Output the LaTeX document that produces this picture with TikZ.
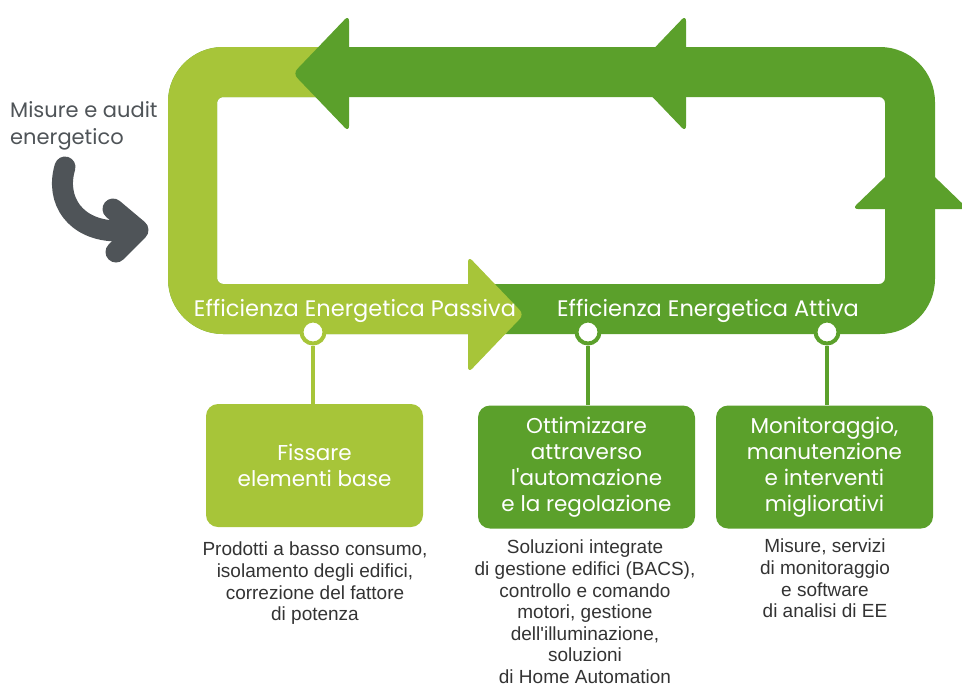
\documentclass[tikz,border=0pt]{standalone}
\usepackage{fontspec}
\setmainfont{Poppins}
\newfontfamily\descfont{Liberation Sans}
\definecolor{lightg}{HTML}{A7C539}
\definecolor{darkg}{HTML}{5BA02B}
\definecolor{arrowgray}{HTML}{4F5458}
\definecolor{desc}{HTML}{333333}
\begin{document}
\begin{tikzpicture}[x=1pt,y=-1pt,
  box/.style={rounded corners=12pt, minimum width=217pt, minimum height=123pt, inner sep=0pt, align=center, text=white, font=\fontsize{21.5}{26}\selectfont},
  desctext/.style={anchor=north, inner sep=0pt, align=center, text=desc, font=\descfont\fontsize{19}{21.6}\selectfont},
  title/.style={text=white, inner sep=0pt, anchor=base, font=\fontsize{22.5}{26}\selectfont},
  ring/.style={circle, fill=white, line width=4pt, minimum size=23pt, inner sep=0pt},
  stem/.style={line width=4pt},
  bandshape/.style={even odd rule},
  grayarrow/.style={arrowgray, line width=21pt, line cap=round, line join=round}
]
\path[use as bounding box] (0,0) rectangle (962,686);

% band
\fill[darkg, bandshape] [rounded corners=55pt] (168,47) rectangle (935,334) [rounded corners=6pt] (217,97) rectangle (885,284);
\begin{scope}
\clip (0,0) -- (330,0) -- (330,190) -- (470,190) -- (470,686) -- (0,686) -- cycle;
\fill[lightg, bandshape] [rounded corners=55pt] (168,47) rectangle (935,334) [rounded corners=6pt] (217,97) rectangle (885,284);
\end{scope}

% arrowheads
\fill[darkg, rounded corners=6pt] (293,73.5) -- (349,15) -- (349,132) -- cycle;
\fill[darkg, rounded corners=6pt] (630,73.5) -- (686,15) -- (686,132) -- cycle;
\fill[darkg, rounded corners=6pt] (910,153) -- (968,209) -- (852,209) -- cycle;
\fill[lightg, rounded corners=6pt] (524,314.5) -- (468,256) -- (468,373) -- cycle;

% titles
\node[title] (t1) at (355,316) {Efficienza Energetica Passiva};
\node[title] (t2) at (708,316) {Efficienza Energetica Attiva};

% boxes
\node[box, fill=lightg, text depth=0pt] (b1) at (314.5,465.5) {Fissare\\elementi base};
\node[box, fill=darkg] (b2) at (586.5,467) {Ottimizzare\\attraverso\\l\textquotesingle automazione\\e la regolazione};
\node[box, fill=darkg] (b3) at (824.5,467) {Monitoraggio,\\manutenzione\\e interventi\\migliorativi};

% circles and stems
\node[ring, draw=lightg] (c1) at (313,332) {};
\node[ring, draw=darkg] (c2) at (588,332) {};
\node[ring, draw=darkg] (c3) at (827,332) {};
\draw[lightg, stem] (c1.south) -- (c1.south |- b1.north);
\draw[darkg, stem] (c2.south) -- (c2.south |- b2.north);
\draw[darkg, stem] (c3.south) -- (c3.south |- b3.north);

% descriptions
\node[desctext] (d1) at (315,542) {Prodotti a basso consumo,\\isolamento degli edifici,\\correzione del fattore\\di potenza};
\node[desctext] (d2) at (585,540) {Soluzioni integrate\\di gestione edifici (BACS),\\controllo e comando\\motori, gestione\\dell\textquotesingle illuminazione,\\soluzioni\\di Home Automation};
\node[desctext] (d3) at (825,539) {Misure, servizi\\di monitoraggio\\e software\\di analisi di EE};

% audit label and arrow
\node[anchor=north west, inner sep=0pt, align=left, text=arrowgray, font=\fontsize{21}{27}\selectfont] (m) at (10,101) {Misure e audit\\energetico};
\draw[grayarrow] (65,167) .. controls (55,200) and (75,231) .. (118,231) -- (135,231);
\draw[grayarrow] (113,209) -- (138,230) -- (116,252);
\end{tikzpicture}
\end{document}
